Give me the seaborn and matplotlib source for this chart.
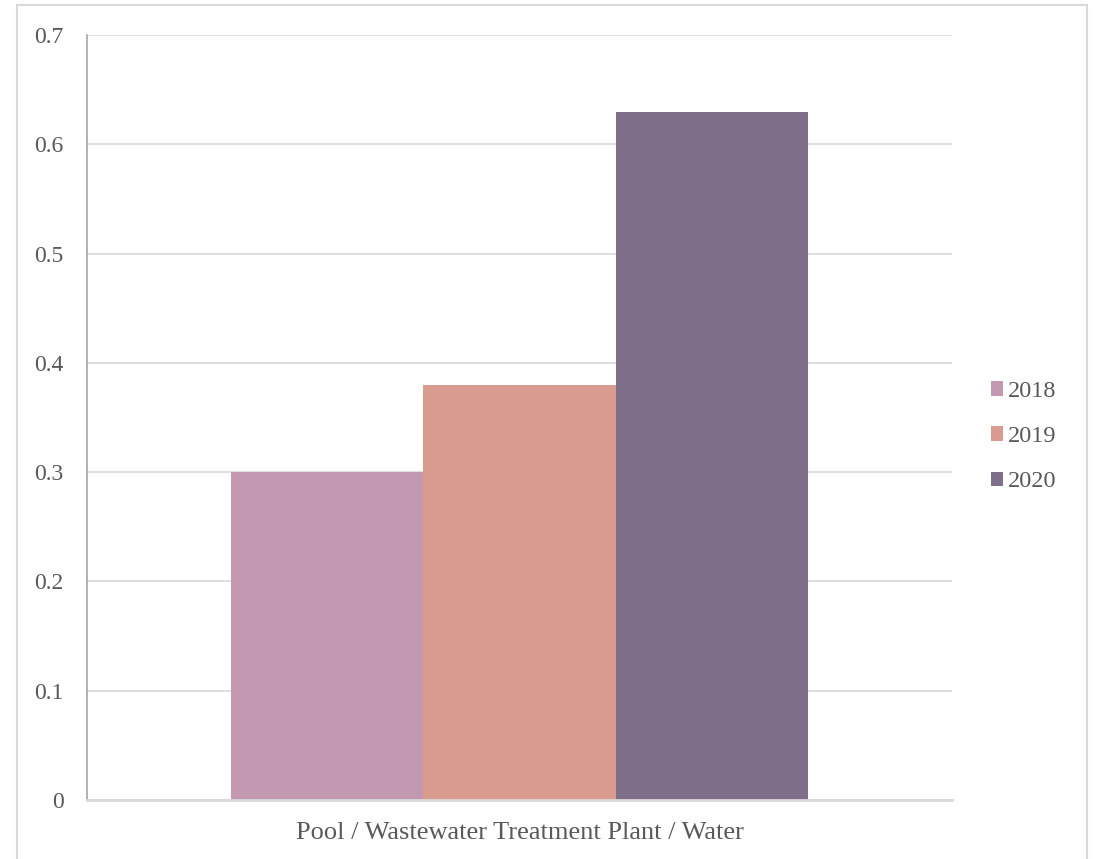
import matplotlib
matplotlib.use("Agg")
import matplotlib.pyplot as plt
import seaborn as sns
import pandas as pd
from matplotlib.patches import Rectangle

categories = ["Pool / Wastewater Treatment Plant / Water"]
years = ["2018", "2019", "2020"]
values = [0.30, 0.38, 0.63]
colors = ["#C399B1", "#D99A8F", "#7F6F8B"]

df = pd.DataFrame({
    "category": categories * len(years),
    "year": years,
    "value": values,
})

sns.set_style("white")
plt.rcParams["font.family"] = ["Liberation Serif", "DejaVu Serif"]
text_color = "#595959"

fig = plt.figure(figsize=(10.94, 8.59), dpi=100)
ax = fig.add_axes([87 / 1094, 59 / 859, 865 / 1094, 765 / 859])

sns.barplot(data=df, x="category", y="value", hue="year", hue_order=years,
            palette=colors, width=0.667, saturation=1, linewidth=0,
            edgecolor="none", ax=ax, legend=True)

ax.set_xlim(-0.5, 0.5)
ax.set_ylim(0, 0.7)
ax.set_yticks([0, 0.1, 0.2, 0.3, 0.4, 0.5, 0.6, 0.7])
ax.set_yticklabels(["0", "0.1", "0.2", "0.3", "0.4", "0.5", "0.6", "0.7"])
ax.yaxis.grid(True, color="#D9D9D9", linewidth=1.2)
ax.set_axisbelow(True)
ax.set_xlabel("")
ax.set_ylabel("")
ax.tick_params(axis="y", length=0, labelsize=17, labelcolor=text_color, pad=17)
ax.tick_params(axis="x", length=0, labelsize=19, labelcolor=text_color, pad=16)

for side in ["top", "right"]:
    ax.spines[side].set_visible(False)
ax.spines["left"].set_color("#A6A6A6")
ax.spines["left"].set_linewidth(1.2)
ax.spines["bottom"].set_color("#D9D9D9")
ax.spines["bottom"].set_linewidth(2)

leg = ax.legend(loc="center left", bbox_to_anchor=(1.02, 0.475), frameon=False,
                fontsize=17.5, handlelength=0.5, handleheight=0.55,
                handletextpad=0.2, labelspacing=1.0)
for t in leg.get_texts():
    t.set_color(text_color)

# chart frame
fig.patches.append(Rectangle((17 / 1094, -0.05), 1070 / 1094, 1.05 - 5 / 859,
                             transform=fig.transFigure, fill=False,
                             edgecolor="#D9D9D9", linewidth=1.5))

fig.savefig("out.png", dpi=100, facecolor="white")
